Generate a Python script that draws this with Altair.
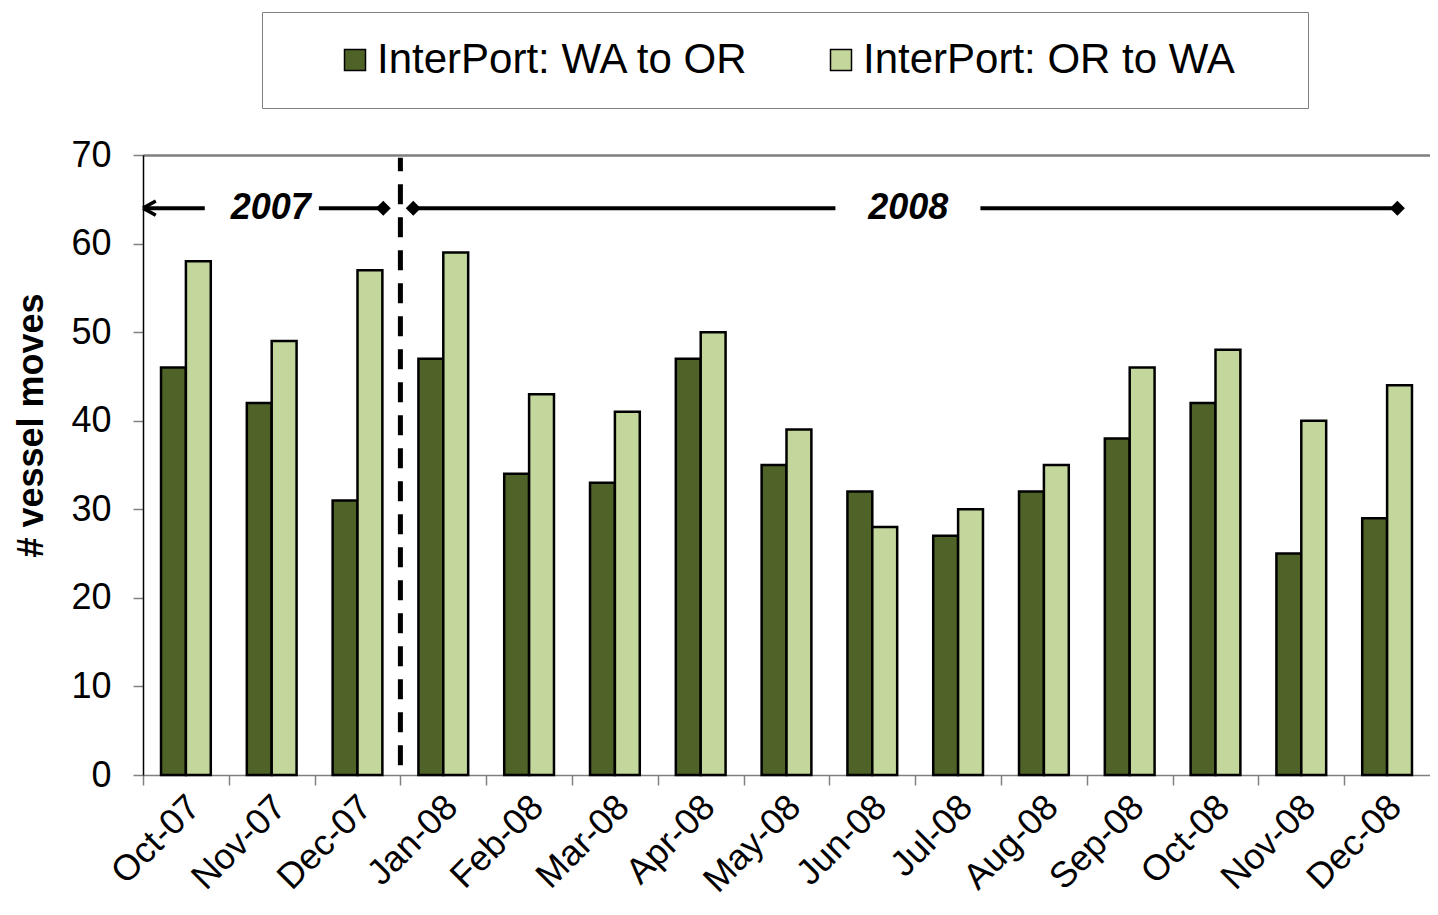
import altair as alt
import pandas as pd

# ---- data ----
months = ["Oct-07", "Nov-07", "Dec-07", "Jan-08", "Feb-08", "Mar-08", "Apr-08",
          "May-08", "Jun-08", "Jul-08", "Aug-08", "Sep-08", "Oct-08", "Nov-08", "Dec-08"]
wa_to_or = [46, 42, 31, 47, 34, 33, 47, 35, 32, 27, 32, 38, 42, 25, 29]
or_to_wa = [58, 49, 57, 59, 43, 41, 50, 39, 28, 30, 35, 46, 48, 40, 44]
series = ["InterPort: WA to OR", "InterPort: OR to WA"]
colors = ["#4F6228", "#C3D69B"]

# period annotation (positions in month units along the axis, 0 = left edge)
period_labels = ["2007", "2008"]
period_label_pos = [1.49, 8.92]
segment_start = [0.0, 2.05, 3.15, 9.76]
segment_end = [0.72, 2.80, 8.07, 14.62]
diamond_pos = [2.80, 3.15, 14.62]
arrow_pos = [0.0]
period_level = 64
divider_pos = [3.0]
divider_low = 1.1
divider_high = 69.7

FONT = "Liberation Sans"
N = len(months)
W, H = 1287, 620
STEP = W / N

rows = []
for i, m in enumerate(months):
    rows.append({"month": m, "series": series[0], "value": wa_to_or[i]})
    rows.append({"month": m, "series": series[1], "value": or_to_wa[i]})
df = pd.DataFrame(rows)

yscale = alt.Scale(domain=[0, 70], nice=False, zero=True)
xq = alt.Scale(domain=[0, N], nice=False, zero=False)

yaxis = alt.Axis(values=[0, 10, 20, 30, 40, 50, 60, 70], grid=False,
                 title="# vessel moves", titleFontSize=36, titleFont=FONT,
                 titleFontWeight="bold", titleColor="black",
                 titleAngle=-90, titleAlign="center", titleBaseline="middle",
                 titleX=-112, titleY=270,
                 labelFontSize=36, labelFont=FONT, labelColor="black",
                 labelPadding=22, tickSize=10, tickColor="#808080",
                 tickWidth=1.5, domainColor="black", domainWidth=1.5)

topaxis = alt.Axis(orient="top", labels=False, ticks=False, grid=False, title=None,
                   domainColor="#808080", domainWidth=1.5)

bars = alt.Chart(df).mark_bar(stroke="black", strokeWidth=2.5).encode(
    x=alt.X("month:N", sort=months,
            scale=alt.Scale(paddingInner=0.42, paddingOuter=0.21),
            axis=alt.Axis(title=None, labelAngle=-45, labelAlign="right",
                          labelBaseline="middle", labelFontSize=36, labelFont=FONT,
                          labelColor="black", tickSize=10, tickColor="#808080",
                          tickWidth=1.5, domainColor="#808080", domainWidth=1.5,
                          tickOffset=-STEP / 2, labelOffset=STEP / 2 + 8,
                          labelPadding=16, labelOverlap=False, labelFlush=False,
                          labelBound=False, labelLimit=0)),
    xOffset=alt.XOffset("series:N", sort=series),
    y=alt.Y("value:Q", scale=yscale, axis=yaxis),
    color=alt.Color("series:N", sort=series,
                    scale=alt.Scale(domain=series, range=colors),
                    legend=alt.Legend(title=" ", titleOrient="right", titleFontSize=1,
                                      titlePadding=46,
                                      orient="none", legendX=119, legendY=-143,
                                      direction="horizontal", columns=2,
                                      strokeColor="#808080", fillColor="white",
                                      padding=27, symbolType="square", symbolSize=441,
                                      symbolStrokeColor="black", symbolStrokeWidth=1.5,
                                      symbolOffset=45, labelFontSize=42, labelFont=FONT,
                                      labelColor="black", labelOffset=1,
                                      columnPadding=26, labelLimit=0)),
)

seg_df = pd.DataFrame({"x": segment_start, "x2": segment_end,
                       "y": [period_level] * len(segment_start)})
segs = alt.Chart(seg_df).mark_rule(color="black", strokeWidth=4).encode(
    x=alt.X("x:Q", scale=xq, axis=topaxis), x2="x2:Q",
    y=alt.Y("y:Q", scale=yscale, axis=yaxis))

dia_df = pd.DataFrame({"x": diamond_pos, "y": [period_level] * len(diamond_pos)})
diamonds = alt.Chart(dia_df).mark_point(shape="diamond", filled=True, size=225,
                                        color="black", opacity=1).encode(
    x=alt.X("x:Q", scale=xq, axis=topaxis), y=alt.Y("y:Q", scale=yscale, axis=yaxis))

arr_df = pd.DataFrame({"x": arrow_pos, "y": [period_level]})
arrow = alt.Chart(arr_df).mark_point(shape="M0,0L1.6,-0.9M0,0L1.6,0.9", filled=False,
                                     size=256, strokeWidth=3.5, color="black",
                                     opacity=1).encode(
    x=alt.X("x:Q", scale=xq, axis=topaxis), y=alt.Y("y:Q", scale=yscale, axis=yaxis))

txt_df = pd.DataFrame({"x": period_label_pos, "y": [period_level] * 2, "t": period_labels})
texts = alt.Chart(txt_df).mark_text(fontSize=36, fontWeight="bold", fontStyle="italic",
                                    font=FONT, align="center", baseline="middle",
                                    color="black").encode(
    x=alt.X("x:Q", scale=xq, axis=topaxis), y=alt.Y("y:Q", scale=yscale, axis=yaxis),
    text="t:N")

div_df = pd.DataFrame({"x": divider_pos, "y": [divider_low], "y2": [divider_high]})
divider = alt.Chart(div_df).mark_rule(color="black", strokeWidth=5,
                                      strokeDash=[20, 13]).encode(
    x=alt.X("x:Q", scale=xq, axis=topaxis), y=alt.Y("y:Q", scale=yscale, axis=yaxis),
    y2="y2:Q")

chart = alt.layer(bars, segs, diamonds, arrow, texts, divider).resolve_scale(
    x="independent"
).properties(
    width=W, height=H,
    autosize=alt.AutoSizeParams(type="none"),
    padding={"left": 135, "top": 147, "right": 0, "bottom": 124},
    background="white",
).configure_view(stroke=None)

chart.save("out.html", embed_options={"renderer": "svg", "actions": False})
